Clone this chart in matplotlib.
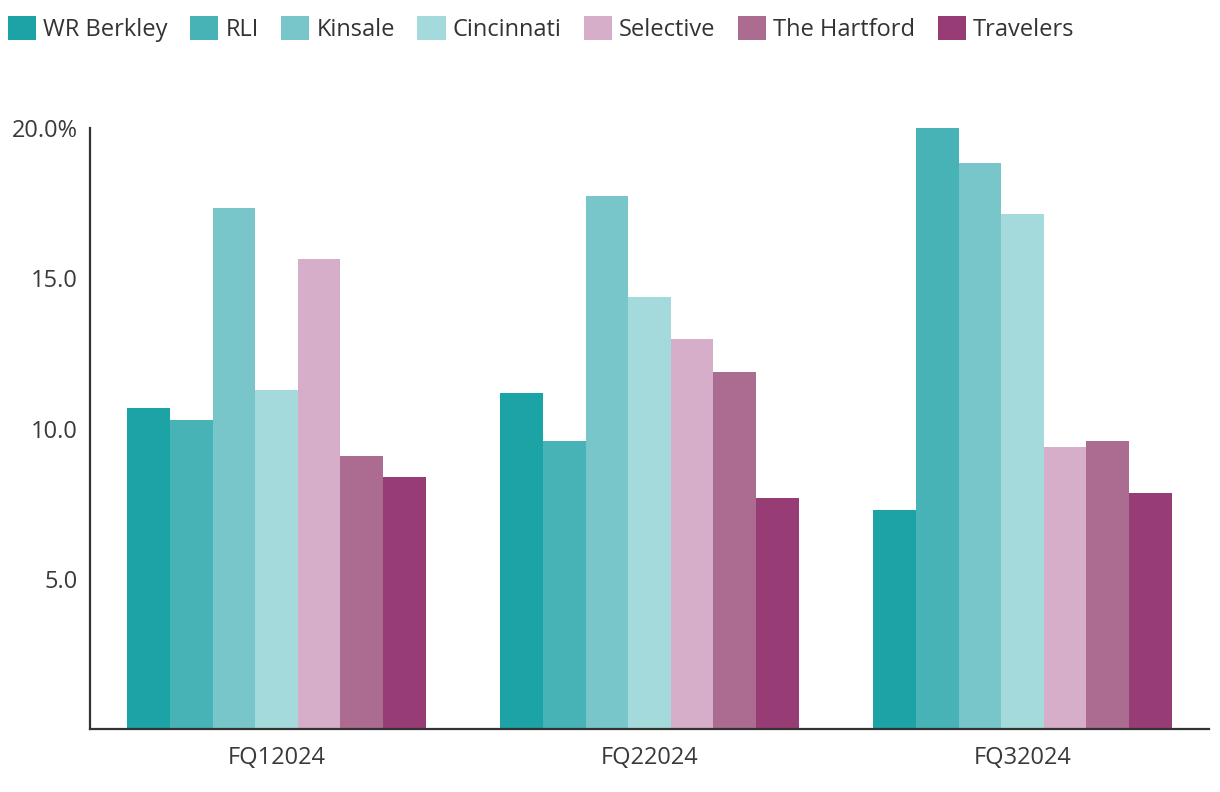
import numpy as np
import matplotlib.pyplot as plt
from matplotlib.patches import Patch

plt.rcParams['font.family'] = ['Open Sans', 'DejaVu Sans']

quarters = ['FQ12024', 'FQ22024', 'FQ32024']
companies = ['WR Berkley', 'RLI', 'Kinsale', 'Cincinnati', 'Selective',
             'The Hartford', 'Travelers']
colors = ['#1ca3a6', '#47b3b6', '#78c6c9', '#a5dadc', '#d7aec9',
          '#ac6b91', '#983c75']

wr_berkley = [10.67, 11.17, 7.30]
rli = [10.27, 9.57, 20.03]
kinsale = [17.33, 17.73, 18.83]
cincinnati = [11.27, 14.37, 17.13]
selective = [15.63, 12.97, 9.37]
hartford = [9.07, 11.87, 9.57]
travelers = [8.37, 7.70, 7.87]

series = [wr_berkley, rli, kinsale, cincinnati, selective, hartford, travelers]

fig = plt.figure(figsize=(12.2, 7.92), dpi=100)
ax = fig.add_axes([0.0738, 0.0795, 0.9172, 0.7589])

x = np.arange(len(quarters))
n = len(series)
width = 0.8 / n
for i, (vals, col) in enumerate(zip(series, colors)):
    ax.bar(x - 0.4 + width * (i + 0.5), vals, width, color=col, label=companies[i])

ax.set_xlim(-0.5, 2.5)
ax.set_ylim(0, 20)
ax.set_yticks([5, 10, 15, 20])
ax.set_yticklabels(['5.0', '10.0', '15.0', '20.0%'])
ax.set_xticks(x)
ax.set_xticklabels(quarters)
ax.tick_params(length=0, labelsize=17, colors='#3a3a3a', pad=12)
ax.tick_params(axis='y', pad=9)
for lbl in ax.get_yticklabels():
    lbl.set_va('center_baseline')
for s in ['top', 'right']:
    ax.spines[s].set_visible(False)
for s in ['left', 'bottom']:
    ax.spines[s].set_color('#333333')
    ax.spines[s].set_linewidth(1.6)

handles = [Patch(facecolor=c, label=l) for c, l in zip(colors, companies)]
fig.legend(handles=handles, loc='upper left', bbox_to_anchor=(0.0, 0.99),
           ncol=7, frameon=False, fontsize=17, handlelength=1.19,
           handleheight=1.19, handletextpad=0.3, columnspacing=0.95,
           borderpad=0.25, borderaxespad=0.1, labelcolor='#333333')

fig.savefig('out.png', dpi=100)
